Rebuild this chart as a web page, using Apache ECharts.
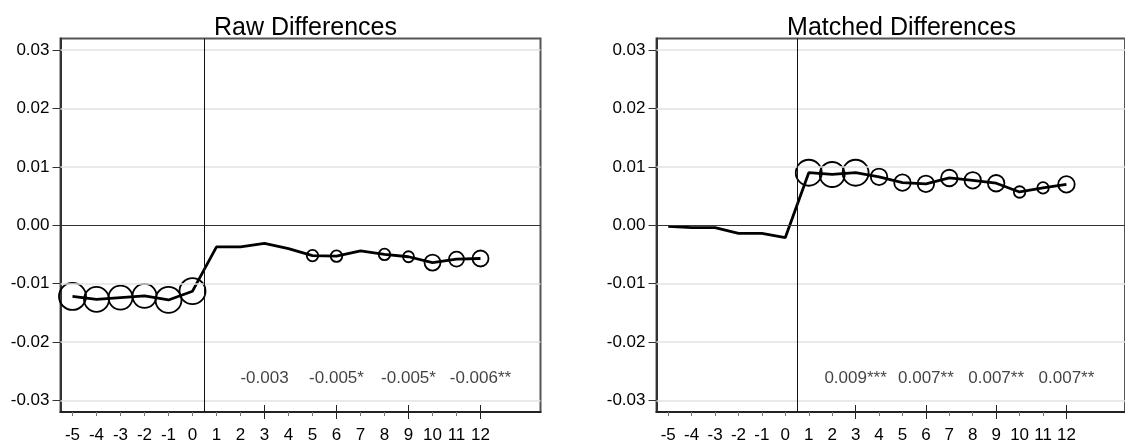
<!DOCTYPE html>
<html>
<head>
<meta charset="utf-8">
<script src="https://cdn.jsdelivr.net/npm/echarts@6/dist/echarts.min.js"></script>
<style>
html,body{margin:0;padding:0;background:#fff;}
#c{width:1125px;height:444px;}
</style>
</head>
<body>
<div id="c"></div>
<script>
// ---- data ----
const periods = [-5,-4,-3,-2,-1,0,1,2,3,4,5,6,7,8,9,10,11,12];
const rawDiff = [-0.0122,-0.0127,-0.0124,-0.0121,-0.0128,-0.0113,-0.0037,-0.0037,-0.0031,-0.0040,-0.0052,-0.0053,-0.0044,-0.0050,-0.0054,-0.0064,-0.0058,-0.0057];
const matchedDiff = [-0.0002,-0.0004,-0.0004,-0.0014,-0.0014,-0.0021,0.0090,0.0087,0.0090,0.0083,0.0073,0.0071,0.0081,0.0077,0.0072,0.0057,0.0064,0.0070];
// circle marker weight (0 = no circle)
const rawCircle = [27,25,24,24,26,26,0,0,0,0,11.5,11.5,0,11.5,11,16,15,16];
const matchedCircle = [0,0,0,0,0,0,26,25,26,16.5,16.5,16.5,16.5,16.5,16.5,11.5,11.5,16.5];
const annotX = [3,6,9,12];
const rawAnnot = ['-0.003','-0.005*','-0.005*','-0.006**'];
const matchedAnnot = ['0.009***','0.007**','0.007**','0.007**'];
const annotY = -0.0263;
const yTicks = [-0.03,-0.02,-0.01,0.00,0.01,0.02,0.03];
const xMajor = [3,6,9,12];
const titles = ['Raw Differences','Matched Differences'];

const FONT = 'Liberation Sans';
const chart = echarts.init(document.getElementById('c'), null, {renderer:'canvas'});

const grids = [
  {left:60.5, top:38.5, width:480, height:378.8},
  {left:656.5, top:38.5, width:480, height:378.8}
];
const panels = [
  {vals: rawDiff, circ: rawCircle, annot: rawAnnot},
  {vals: matchedDiff, circ: matchedCircle, annot: matchedAnnot}
];

const xAxis = [], yAxis = [], series = [], title = [];
grids.forEach((g, i) => {
  g.show = true; g.borderColor = '#555'; g.borderWidth = 2; g.containLabel = false;
  title.push({text: titles[i], left: g.left + g.width/2, textAlign:'center', top: 11,
    textStyle:{fontFamily:FONT, fontSize:25, fontWeight:'normal', color:'#000'}});
  // main x axis
  xAxis.push({type:'value', gridIndex:i, min:-5.5, max:14.5, position:'bottom',
    axisLine:{show:true, onZero:false, lineStyle:{color:'#222', width:2}},
    axisTick:{show:true, customValues:periods, length:4, lineStyle:{color:'#777', width:1}},
    axisLabel:{show:true, customValues:periods, margin:15, fontFamily:FONT, fontSize:17, color:'#000',
      formatter: v => String(v)},
    splitLine:{show:false}});
  // major tick axis (crossing the axis line)
  xAxis.push({type:'value', gridIndex:i, min:-5.5, max:14.5, position:'bottom', offset:-7,
    axisLine:{show:false, onZero:false},
    axisTick:{show:true, customValues:xMajor, length:14, lineStyle:{color:'#222', width:1}},
    axisLabel:{show:false}, splitLine:{show:false}});
  yAxis.push({type:'value', gridIndex:i, min:-0.032, max:0.032,
    axisLine:{show:true, onZero:false, lineStyle:{color:'#333', width:2}},
    axisTick:{show:true, customValues:yTicks, length:8, lineStyle:{color:'#333', width:1}},
    axisLabel:{show:true, customValues:yTicks, margin:11, fontFamily:FONT, fontSize:17, color:'#000',
      formatter: v => v.toFixed(2)},
    splitLine:{show:false}});
  const xi = i*2;
  const p = panels[i];
  // gridlines + reference lines
  series.push({type:'line', xAxisIndex:xi, yAxisIndex:i, data:[], silent:true, z:1,
    markLine:{silent:true, symbol:['none','none'], label:{show:false}, animation:false,
      data: yTicks.filter(v => v !== 0).map(v => ({yAxis:v, lineStyle:{color:'#e2e2e2', width:1.5, type:'solid'}}))
        .concat([{yAxis:0, lineStyle:{color:'#333', width:1, type:'solid'}},
                 {xAxis:0.5, lineStyle:{color:'#111', width:1, type:'solid'}}])}});
  // data line
  series.push({type:'line', xAxisIndex:xi, yAxisIndex:i, z:3,
    data: periods.map((x, k) => [x, p.vals[k]]),
    showSymbol:false, symbol:'none', lineStyle:{color:'#000', width:2.8}, animation:false});
  // circles
  series.push({type:'scatter', xAxisIndex:xi, yAxisIndex:i, z:4,
    data: periods.map((x, k) => [x, p.vals[k], p.circ[k]]).filter(d => d[2] > 0),
    symbol:'circle', symbolSize: d => d[2],
    itemStyle:{color:'rgba(0,0,0,0)', borderColor:'#000', borderWidth:1.8, opacity:1}, animation:false});
  // annotations
  series.push({type:'scatter', xAxisIndex:xi, yAxisIndex:i, z:5,
    data: annotX.map((x, k) => ({value:[x, annotY], name:p.annot[k]})),
    symbol:'circle', symbolSize:1, itemStyle:{color:'rgba(0,0,0,0)'},
    label:{show:true, position:'inside', formatter: d => d.name, fontFamily:FONT, fontSize:17, color:'#111'},
    animation:false});
});

chart.setOption({animation:false, backgroundColor:'#fff', title, grid:grids, xAxis, yAxis, series});
</script>
</body>
</html>
